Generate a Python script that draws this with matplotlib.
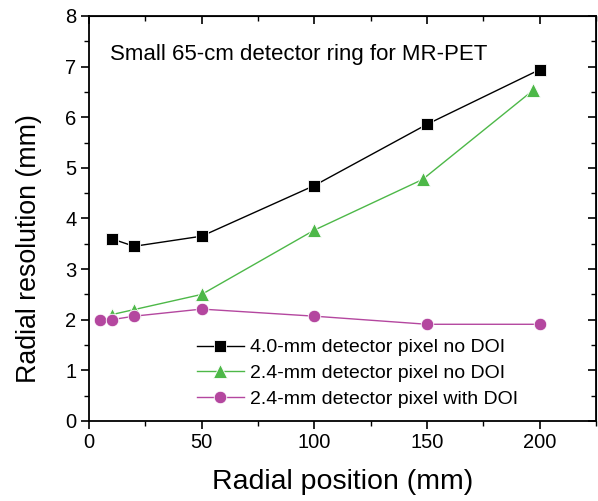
import matplotlib
matplotlib.use('Agg')
import matplotlib.pyplot as plt
from matplotlib.ticker import MultipleLocator

plt.rcParams['font.family'] = ['Liberation Sans', 'DejaVu Sans']

# data
x_40_nodoi = [10, 20, 50, 100, 150, 200]
y_40_nodoi = [3.6, 3.45, 3.65, 4.65, 5.86, 6.94]

x_24_nodoi = [10, 20, 50, 100, 148, 197]
y_24_nodoi = [2.1, 2.2, 2.5, 3.77, 4.77, 6.53]

x_24_doi = [5, 10, 20, 50, 100, 150, 200]
y_24_doi = [2.0, 2.0, 2.07, 2.21, 2.07, 1.91, 1.91]

labels = ['4.0-mm detector pixel no DOI',
          '2.4-mm detector pixel no DOI',
          '2.4-mm detector pixel with DOI']

green = '#4db848'
magenta = '#b4479f'

fig = plt.figure(figsize=(5.98, 5.01), dpi=100)
ax = fig.add_axes([0.1488, 0.1597, 0.848, 0.8085])

ax.plot(x_40_nodoi, y_40_nodoi, color='black', lw=1.0, marker='s',
        markersize=8, markeredgecolor='white', markeredgewidth=0.6,
        label=labels[0])
ax.plot(x_24_nodoi, y_24_nodoi, color=green, lw=1.0, marker='^',
        markersize=10, markeredgecolor='white', markeredgewidth=0.6,
        label=labels[1])
ax.plot(x_24_doi, y_24_doi, color=magenta, lw=1.0, marker='o',
        markersize=9, markeredgecolor='white', markeredgewidth=0.6,
        label=labels[2])

ax.set_xlim(0, 225)
ax.set_ylim(0, 8)
ax.xaxis.set_major_locator(MultipleLocator(50))
ax.xaxis.set_minor_locator(MultipleLocator(25))
ax.yaxis.set_major_locator(MultipleLocator(1))
ax.yaxis.set_minor_locator(MultipleLocator(0.5))

for sp in ax.spines.values():
    sp.set_linewidth(1.3)

ax.tick_params(which='major', direction='out', length=6, width=1.2,
               labelsize=14.5, pad=3)
ax.tick_params(which='minor', direction='out', length=3.5, width=1.0)

# mirrored inward ticks on top and right
top = ax.secondary_xaxis('top')
top.xaxis.set_major_locator(MultipleLocator(50))
top.xaxis.set_minor_locator(MultipleLocator(25))
top.tick_params(which='major', direction='in', length=6, width=1.2, labeltop=False)
top.tick_params(which='minor', direction='in', length=3.5, width=1.0)
right = ax.secondary_yaxis('right')
right.yaxis.set_major_locator(MultipleLocator(1))
right.yaxis.set_minor_locator(MultipleLocator(0.5))
right.tick_params(which='major', direction='in', length=6, width=1.2, labelright=False)
right.tick_params(which='minor', direction='in', length=3.5, width=1.0)

ax.set_xlabel('Radial position (mm)', fontsize=20.5, labelpad=12)
ax.set_ylabel('Radial resolution (mm)', fontsize=19.3)
ax.yaxis.set_label_coords(-0.093, 0.425)

ax.text(9.3, 7.23, 'Small 65-cm detector ring for MR-PET', fontsize=16,
        va='center', ha='left')

ax.legend(loc='upper left', bbox_to_anchor=(0.197, 0.222), frameon=False,
          fontsize=14, handlelength=2.45, handletextpad=0.3,
          labelspacing=0.42, borderaxespad=0)

fig.savefig('out.png', dpi=100, facecolor='white')
